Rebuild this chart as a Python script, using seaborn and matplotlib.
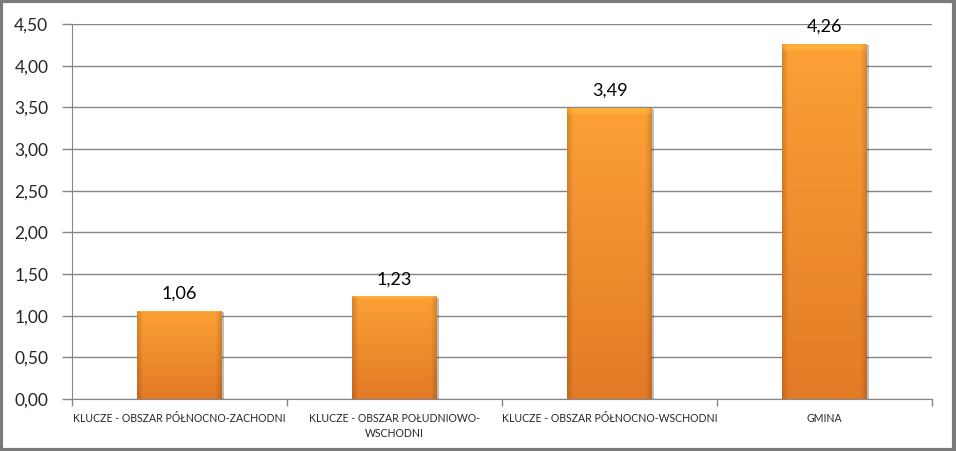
import numpy as np
import pandas as pd
import matplotlib
matplotlib.use("Agg")
import matplotlib.pyplot as plt
import seaborn as sns
from matplotlib.ticker import FuncFormatter, FixedLocator
from matplotlib.patches import Rectangle

# dane
categories = ["KLUCZE - OBSZAR PÓŁNOCNO-ZACHODNI",
              "KLUCZE - OBSZAR POŁUDNIOWO-\nWSCHODNI",
              "KLUCZE - OBSZAR PÓŁNOCNO-WSCHODNI",
              "GMINA"]
values = [1.06, 1.23, 3.49, 4.26]
y_ticks = [0.0, 0.5, 1.0, 1.5, 2.0, 2.5, 3.0, 3.5, 4.0, 4.5]

df = pd.DataFrame({"obszar": categories, "wartosc": values})

sns.set_style("white")
plt.rcParams['font.family'] = ['Lato', 'DejaVu Sans']

fig = plt.figure(figsize=(9.56, 4.51), dpi=100)
ax = fig.add_axes([0.0753, 0.1153, 0.8997, 0.8315])

sns.barplot(data=df, x="obszar", y="wartosc", color="#F7962F", width=0.395,
            saturation=1, ax=ax, zorder=3, edgecolor="none", linewidth=0)

# gradient na słupkach (styl Excela)
rows = np.linspace(0, 1, 100)[:, None]
cols = np.linspace(0, 1, 60)[None, :]
top = np.array([0.99, 0.63, 0.21])
bottom = np.array([0.89, 0.48, 0.15])
grad = top[None, None, :] * (1 - rows[..., None]) + bottom[None, None, :] * rows[..., None]
grad = np.broadcast_to(grad, (100, 60, 3)).copy()
edge = np.minimum(cols, 1 - cols)
shade = np.clip(edge / 0.07, 0, 1) * 0.15 + 0.85
grad *= shade[0][None, :, None]
grad[:2] = np.clip(grad[:2] * 1.1, 0, 1)

for p in ax.patches:
    x0, y0 = p.get_x(), p.get_y()
    w, h = p.get_width(), p.get_height()
    # cień
    sh = Rectangle((x0 + 0.008, y0), w, h - 0.015, facecolor="#000000", alpha=0.25,
                   zorder=2.5, linewidth=0)
    ax.add_patch(sh)
    im = ax.imshow(grad, extent=[x0, x0 + w, y0, y0 + h], aspect="auto",
                   zorder=3.5, interpolation="bilinear")
    im.set_clip_path(p)

# etykiety wartości
for i, v in enumerate(values):
    ax.text(i, v + 0.11, f"{v:.2f}".replace(".", ","), ha="center", va="bottom",
            fontsize=13, color="black")

ax.set_xlim(-0.5, 3.5)
ax.set_ylim(0, 4.5)
ax.yaxis.set_major_locator(FixedLocator(y_ticks))
ax.yaxis.set_major_formatter(FuncFormatter(lambda v, _: f"{v:.2f}".replace(".", ",")))
ax.grid(axis="y", color="#868686", linewidth=1, zorder=0)
ax.set_axisbelow(True)

for s in ["top", "right"]:
    ax.spines[s].set_visible(False)
ax.spines["left"].set_color("#868686")
ax.spines["bottom"].set_color("#868686")

ax.tick_params(axis="y", labelsize=12.5, length=7, width=1, color="#868686",
               direction="out", left=True, pad=10)
ax.set_xticks([0, 1, 2, 3])
ax.set_xticklabels(categories, fontsize=7.6)
ax.xaxis.set_minor_locator(FixedLocator([-0.5, 0.5, 1.5, 2.5, 3.5]))
ax.tick_params(axis="x", which="major", length=0, pad=10)
ax.tick_params(axis="x", which="minor", length=5, width=1, color="#868686",
               direction="out", bottom=True)
for lbl in ax.get_xticklabels():
    lbl.set_verticalalignment("top")
    lbl.set_linespacing(1.5)

ax.set_xlabel("")
ax.set_ylabel("")

# ramka wykresu
fig.patches.append(Rectangle((0.001, 0.002), 0.997, 0.996, transform=fig.transFigure,
                             fill=False, edgecolor="#7a7a7a", linewidth=3))

plt.savefig("out.png", dpi=100)
